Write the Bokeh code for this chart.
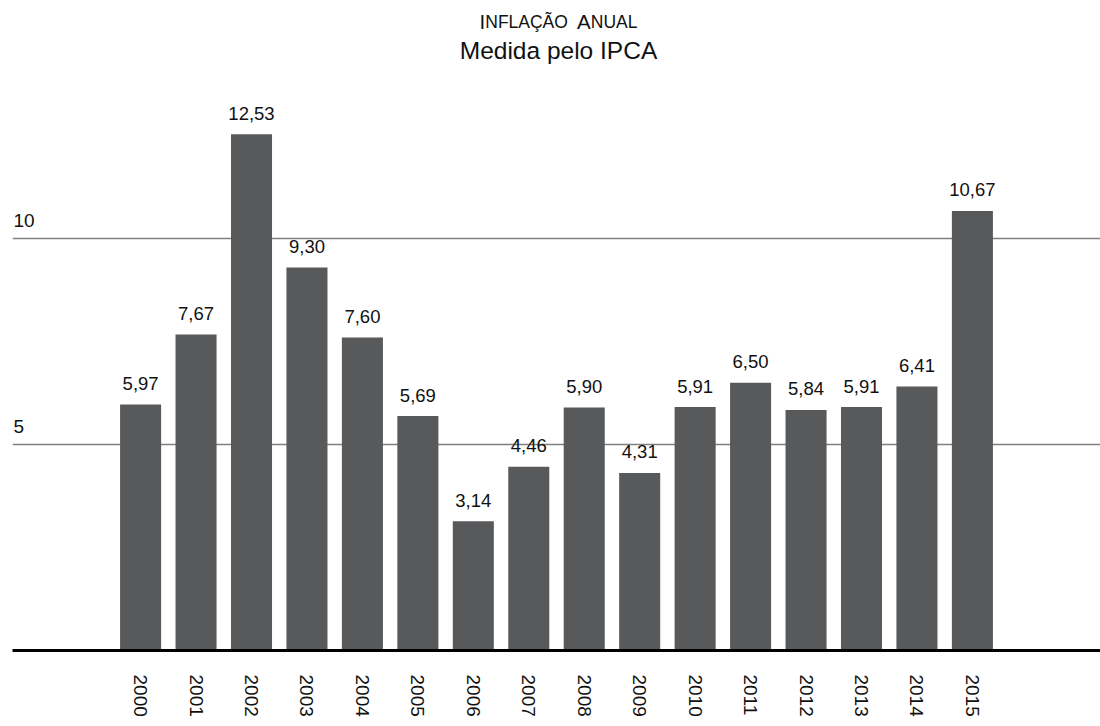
from bokeh.plotting import figure
from bokeh.models import ColumnDataSource, Label, FixedTicker, FactorRange
from bokeh.core.properties import value
from bokeh.embed import file_html
from bokeh.resources import INLINE

# ---- data ----
years = ["2000", "2001", "2002", "2003", "2004", "2005", "2006", "2007",
         "2008", "2009", "2010", "2011", "2012", "2013", "2014", "2015"]
ipca = [5.97, 7.67, 12.53, 9.30, 7.60, 5.69, 3.14, 4.46,
        5.90, 4.31, 5.91, 6.50, 5.84, 5.91, 6.41, 10.67]
y_ticks = [5, 10]
title_small_caps = [("I", "big"), ("NFLAÇÃO", "small"), (" ", "big"), ("A", "big"), ("NUAL", "small")]
subtitle = "Medida pelo IPCA"

labels = [f"{v:.2f}".replace(".", ",") for v in ipca]

FONT = "Liberation Sans"
BAR = "#58595B"

src = ColumnDataSource(dict(year=years, v=ipca, lab=labels))

YMAX = 15.78
p = figure(frame_width=1088, frame_height=650, output_backend="svg", toolbar_location=None,
           x_range=FactorRange(*years, range_padding=1.81, range_padding_units="absolute"),
           y_range=(0, YMAX),
           min_border_left=12, min_border_right=0, min_border_top=0, min_border_bottom=0)
p.outline_line_color = None
p.background_fill_color = "white"
p.border_fill_color = "white"

p.vbar(x="year", top="v", width=0.74, source=src, fill_color=BAR, line_color=None)

p.text(x="year", y="v", text="lab", source=src, text_align="center",
       text_baseline="alphabetic", y_offset=-21, text_font=value(FONT),
       text_font_size="18.5px", text_color="#111111")

# grid
p.xgrid.grid_line_color = None
p.ygrid.ticker = FixedTicker(ticks=y_ticks)
p.ygrid.grid_line_color = "#808080"
p.ygrid.grid_line_width = 1.6
p.yaxis.visible = False
p.yaxis.ticker = FixedTicker(ticks=y_ticks)

for t in y_ticks:
    p.add_layout(Label(x=1, x_units="screen", y=t, y_units="data", y_offset=18,
                       text=str(t), text_font=FONT, text_font_size="19px",
                       text_color="#111111", text_baseline="alphabetic"))

# x axis
ax = p.xaxis[0]
ax.axis_line_color = "black"
ax.axis_line_width = 3
ax.major_tick_line_color = None
ax.minor_tick_line_color = None
ax.major_tick_out = 0
ax.major_tick_in = 0
ax.major_label_orientation = "vertical"
ax.major_label_standoff = 24
ax.major_label_text_font = FONT
ax.major_label_text_font_size = "19px"
ax.major_label_text_color = "#111111"

# title (small caps emulated) and subtitle
WIDTHS = {"I": 0.278, "N": 0.722, "F": 0.611, "L": 0.556, "A": 0.667, "Ç": 0.722,
          "Ã": 0.667, "O": 0.778, "U": 0.722, " ": 0.45}
SIZES = {"big": 20.5, "small": 17.5}
total = sum(sum(WIDTHS[c] for c in s) * SIZES[k] for s, k in title_small_caps)
center = 546
xpos = center - total / 2
for s, k in title_small_caps:
    if s.strip():
        p.add_layout(Label(x=xpos, x_units="screen", y=YMAX, y_units="data", y_offset=-21,
                           text=s, text_font=FONT, text_font_size=f"{SIZES[k]}px",
                           text_color="#111111", text_baseline="alphabetic", text_align="left"))
    xpos += sum(WIDTHS[c] for c in s) * SIZES[k]

p.add_layout(Label(x=center, x_units="screen", y=YMAX, y_units="data", y_offset=-50,
                   text=subtitle, text_font=FONT, text_font_size="24.5px",
                   text_color="#111111", text_baseline="alphabetic", text_align="center"))

open("out.html", "w").write(file_html(p, INLINE))
